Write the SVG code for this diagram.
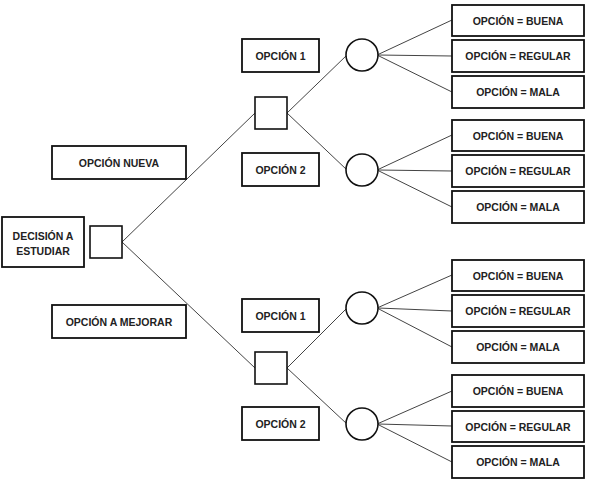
<svg xmlns="http://www.w3.org/2000/svg" width="595" height="480" viewBox="0 0 595 480">
<style>
.box{fill:#fff;stroke:#111;stroke-width:1.8}
.dec{fill:#fff;stroke:#111;stroke-width:1.6}
.chance{fill:#fff;stroke:#111;stroke-width:1.6}
.t{font-family:"Liberation Sans",Arial,sans-serif;font-weight:bold;font-size:10.5px;fill:#222;text-anchor:middle}
.c line{stroke:#444;stroke-width:1}
</style>
<rect width="595" height="480" fill="#fff"/>
<g class="c" id="connectors">
<line x1="122" y1="242" x2="255" y2="113"/>
<line x1="122" y1="242" x2="255" y2="368"/>
<line x1="287" y1="113" x2="347" y2="55"/>
<line x1="287" y1="113" x2="347" y2="170"/>
<line x1="287" y1="368" x2="347" y2="308"/>
<line x1="287" y1="368" x2="347" y2="424"/>
<line x1="377" y1="55" x2="452" y2="20"/>
<line x1="378" y1="55" x2="452" y2="56"/>
<line x1="377" y1="55" x2="452" y2="92"/>
<line x1="377" y1="170" x2="452" y2="135"/>
<line x1="378" y1="170" x2="452" y2="171"/>
<line x1="377" y1="170" x2="452" y2="207"/>
<line x1="377" y1="308" x2="452" y2="275"/>
<line x1="378" y1="308" x2="452" y2="311"/>
<line x1="377" y1="308" x2="452" y2="347"/>
<line x1="377" y1="424" x2="452" y2="391"/>
<line x1="378" y1="424" x2="452" y2="426"/>
<line x1="377" y1="424" x2="452" y2="462"/>
</g>
<g id="decision-label"><rect class="box" x="2" y="217" width="82" height="50"/><text class="t" x="43" y="240">DECISIÓN A</text><text class="t" x="43" y="255">ESTUDIAR</text></g>
<g id="root"><rect class="dec" x="90" y="226" width="32" height="32"/></g>
<g id="opcion-nueva"><rect class="box" x="52" y="146" width="134" height="33"/><text class="t" x="119" y="166.5">OPCIÓN NUEVA</text></g>
<g id="opcion-mejorar"><rect class="box" x="52" y="305" width="134" height="33"/><text class="t" x="119" y="325.5">OPCIÓN A MEJORAR</text></g>
<g id="dec-top"><rect class="dec" x="255" y="97" width="32" height="32"/></g>
<g id="dec-bottom"><rect class="dec" x="255" y="352" width="32" height="32"/></g>
<g id="op1-top"><rect class="box" x="242" y="39" width="77" height="33"/><text class="t" x="280.5" y="59.5">OPCIÓN 1</text></g>
<g id="op2-top"><rect class="box" x="242" y="153" width="77" height="33"/><text class="t" x="280.5" y="173.5">OPCIÓN 2</text></g>
<g id="op1-bottom"><rect class="box" x="242" y="299" width="77" height="33"/><text class="t" x="280.5" y="319.5">OPCIÓN 1</text></g>
<g id="op2-bottom"><rect class="box" x="242" y="407" width="77" height="33"/><text class="t" x="280.5" y="427.5">OPCIÓN 2</text></g>
<g id="chance1"><circle class="chance" cx="362" cy="55" r="16"/></g>
<g id="chance2"><circle class="chance" cx="362" cy="170" r="16"/></g>
<g id="chance3"><circle class="chance" cx="362" cy="308" r="16"/></g>
<g id="chance4"><circle class="chance" cx="362" cy="424" r="16"/></g>
<g id="g1-buena"><rect class="box" x="452" y="5" width="132" height="31"/><text class="t" x="518" y="24.5">OPCIÓN = BUENA</text></g>
<g id="g1-regular"><rect class="box" x="452" y="40" width="132" height="32"/><text class="t" x="518" y="60">OPCIÓN = REGULAR</text></g>
<g id="g1-mala"><rect class="box" x="452" y="76" width="132" height="32"/><text class="t" x="518" y="96">OPCIÓN = MALA</text></g>
<g id="g2-buena"><rect class="box" x="452" y="120" width="132" height="31"/><text class="t" x="518" y="139.5">OPCIÓN = BUENA</text></g>
<g id="g2-regular"><rect class="box" x="452" y="155" width="132" height="32"/><text class="t" x="518" y="175">OPCIÓN = REGULAR</text></g>
<g id="g2-mala"><rect class="box" x="452" y="191" width="132" height="32"/><text class="t" x="518" y="211">OPCIÓN = MALA</text></g>
<g id="g3-buena"><rect class="box" x="452" y="260" width="132" height="31"/><text class="t" x="518" y="279.5">OPCIÓN = BUENA</text></g>
<g id="g3-regular"><rect class="box" x="452" y="295" width="132" height="32"/><text class="t" x="518" y="315">OPCIÓN = REGULAR</text></g>
<g id="g3-mala"><rect class="box" x="452" y="331" width="132" height="32"/><text class="t" x="518" y="351">OPCIÓN = MALA</text></g>
<g id="g4-buena"><rect class="box" x="452" y="375" width="132" height="32"/><text class="t" x="518" y="395">OPCIÓN = BUENA</text></g>
<g id="g4-regular"><rect class="box" x="452" y="411" width="132" height="31"/><text class="t" x="518" y="430.5">OPCIÓN = REGULAR</text></g>
<g id="g4-mala"><rect class="box" x="452" y="446" width="132" height="32"/><text class="t" x="518" y="466">OPCIÓN = MALA</text></g>
</svg>
